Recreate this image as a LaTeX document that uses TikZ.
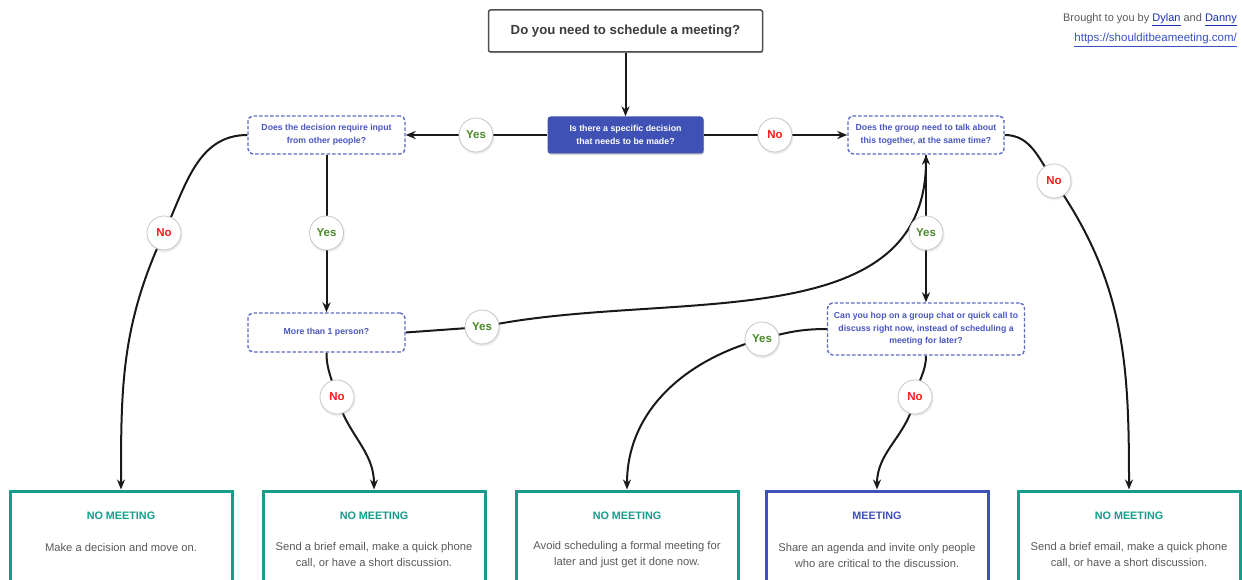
\documentclass[tikz,border=0pt]{standalone}
\usepackage{fontspec}
\setmainfont{Liberation Sans}
\usetikzlibrary{arrows.meta,shadows,backgrounds}
\definecolor{indigo}{HTML}{3F51B5}
\definecolor{dashblue}{HTML}{5C6BC0}
\definecolor{qtext}{HTML}{4A56C2}
\definecolor{teal}{HTML}{179C8C}
\definecolor{txtgray}{HTML}{5A5A5A}
\definecolor{titlegray}{HTML}{3C3C3C}
\definecolor{yesgreen}{HTML}{4A8A2A}
\definecolor{nored}{HTML}{FF1A1A}
\definecolor{linkblue}{HTML}{1A2FB0}
\definecolor{urlblue}{HTML}{3650C8}
\tikzset{
  shadowed/.style={drop shadow={shadow xshift=0.6pt,shadow yshift=-1.2pt,opacity=0.25,fill=black}},
  titlebox/.style={draw=titlegray!90,line width=1.5pt,rounded corners=2pt,fill=white,shadowed,minimum width=274pt,minimum height=42pt,font=\fontsize{13.2}{16}\selectfont\bfseries,text=titlegray},
  decbox/.style={fill=indigo,rounded corners=3pt,shadowed,minimum width=156pt,minimum height=37pt,text=white,align=center,font=\fontsize{8.8}{12.5}\selectfont\bfseries},
  qbox/.style={draw=dashblue,dash pattern=on 3.5pt off 2pt,line width=1.4pt,rounded corners=5pt,fill=white,align=center,text=qtext,font=\fontsize{8.7}{12.5}\selectfont\bfseries},
  endbox/.style={draw=#1,line width=3pt,fill=white,shadowed,minimum width=222pt,minimum height=94pt},
  endtitle/.style={text=#1,font=\fontsize{10.8}{12}\selectfont\bfseries},
  endtext/.style={text=txtgray,align=center,font=\fontsize{11.2}{16}\selectfont},
  pill/.style={circle,draw=black!22,line width=0.8pt,fill=white,circular drop shadow={shadow xshift=0.4pt,shadow yshift=-1pt,opacity=0.2},minimum size=34pt,inner sep=0pt,font=\fontsize{11.5}{12}\selectfont\bfseries},
  yeslab/.style={pill,text=yesgreen},
  nolab/.style={pill,text=nored},
  conn/.style={line width=2pt,black!90},
  arr/.style={conn,-{Stealth[length=10pt,width=8pt]}}
}
\begin{document}
\begin{tikzpicture}[x=1pt,y=-1pt]
\useasboundingbox (0,0) rectangle (1242,580);
% credits
\node[anchor=base east,text=txtgray,font=\fontsize{11}{12}\selectfont,inner sep=0pt] (credit) at (1237,22)
  {Brought to you by \textcolor{linkblue}{\underline{Dylan}} and \textcolor{linkblue}{\underline{Danny}}};
\node[anchor=base east,text=urlblue,font=\fontsize{11.5}{12}\selectfont,inner sep=0pt] (url) at (1237,42)
  {\underline{https://shoulditbeameeting.com/}};
% main nodes
\node[titlebox] (title) at (625.5,31) {Do you need to schedule a meeting?};
\node[decbox] (dec) at (625.5,135) {Is there a specific decision\\that needs to be made?};
\node[qbox,minimum width=157pt,minimum height=38pt] (L) at (326.5,135) {Does the decision require input\\from other people?};
\node[qbox,minimum width=156pt,minimum height=38pt] (R) at (926,135) {Does the group need to talk about\\this together, at the same time?};
\node[qbox,minimum width=157pt,minimum height=39pt] (more) at (326.5,332.5) {More than 1 person?};
\node[qbox,minimum width=197pt,minimum height=52pt] (hop) at (926,329) {Can you hop on a group chat or quick call to\\discuss right now, instead of scheduling a\\meeting for later?};
% end boxes
\node[endbox=teal] (b1) at (121,538) {};
\node[endbox=teal] (b2) at (374,538) {};
\node[endbox=teal] (b3) at (627,538) {};
\node[endbox=indigo] (b4) at (877,538) {};
\node[endbox=teal] (b5) at (1129,538) {};
\node[endtitle=teal] (b1t) at (121,516) {NO MEETING};
\node[endtitle=teal] (b2t) at (374,516) {NO MEETING};
\node[endtitle=teal] (b3t) at (627,516) {NO MEETING};
\node[endtitle=indigo] (b4t) at (877,516) {MEETING};
\node[endtitle=teal] (b5t) at (1129,516) {NO MEETING};
\node[endtext] (b1x) at (121,547) {Make a decision and move on.};
\node[endtext] (b2x) at (374,555) {Send a brief email, make a quick phone\\call, or have a short discussion.};
\node[endtext] (b3x) at (627,555) {Avoid scheduling a formal meeting for\\later and just get it done now.};
\node[endtext] (b4x) at (877,555) {Share an agenda and invite only people\\who are critical to the discussion.};
\node[endtext] (b5x) at (1129,555) {Send a brief email, make a quick phone\\call, or have a short discussion.};
% labels
\node[yeslab] (y1) at (476,135) {Yes};
\node[nolab] (n1) at (775,135) {No};
\node[nolab] (n2) at (164,233) {No};
\node[yeslab] (y2) at (326.5,233) {Yes};
\node[yeslab] (y3) at (926,233) {Yes};
\node[nolab] (n3) at (1054,181) {No};
\node[yeslab] (y4) at (482,327) {Yes};
\node[yeslab] (y5) at (762,339) {Yes};
\node[nolab] (n4) at (337,397) {No};
\node[nolab] (n5) at (915,397) {No};
% connectors
\begin{scope}[on background layer]
\draw[arr] (title.south) -- (dec.north);
\draw[arr] (dec.west) -- (L.east);
\draw[arr] (dec.east) -- (R.west);
\draw[conn] (L.west) to[out=180,in=65] (n2.center);
\draw[arr] (n2.center) to[out=245,in=90] (b1.north);
\draw[arr] (L.south) -- (more.north);
\draw[conn] (more.south) to[out=-90,in=105] (n4.center);
\draw[arr] (n4.center) to[out=-75,in=90] (b2.north);
\draw[conn] (more.east) -- (y4.center);
\draw[arr] (y4.center) to[out=12,in=-90] (R.south);
\draw[arr] (R.south) -- (hop.north);
\draw[conn] (hop.west) to[out=180,in=15] (y5.center);
\draw[arr] (y5.center) to[out=195,in=90] (b3.north);
\draw[conn] (hop.south) to[out=-90,in=80] (n5.center);
\draw[arr] (n5.center) to[out=-100,in=90] (b4.north);
\draw[conn] (R.east) to[out=0,in=125] (n3.center);
\draw[arr] (n3.center) to[out=-55,in=90] (b5.north);
\end{scope}
\end{tikzpicture}
\end{document}
